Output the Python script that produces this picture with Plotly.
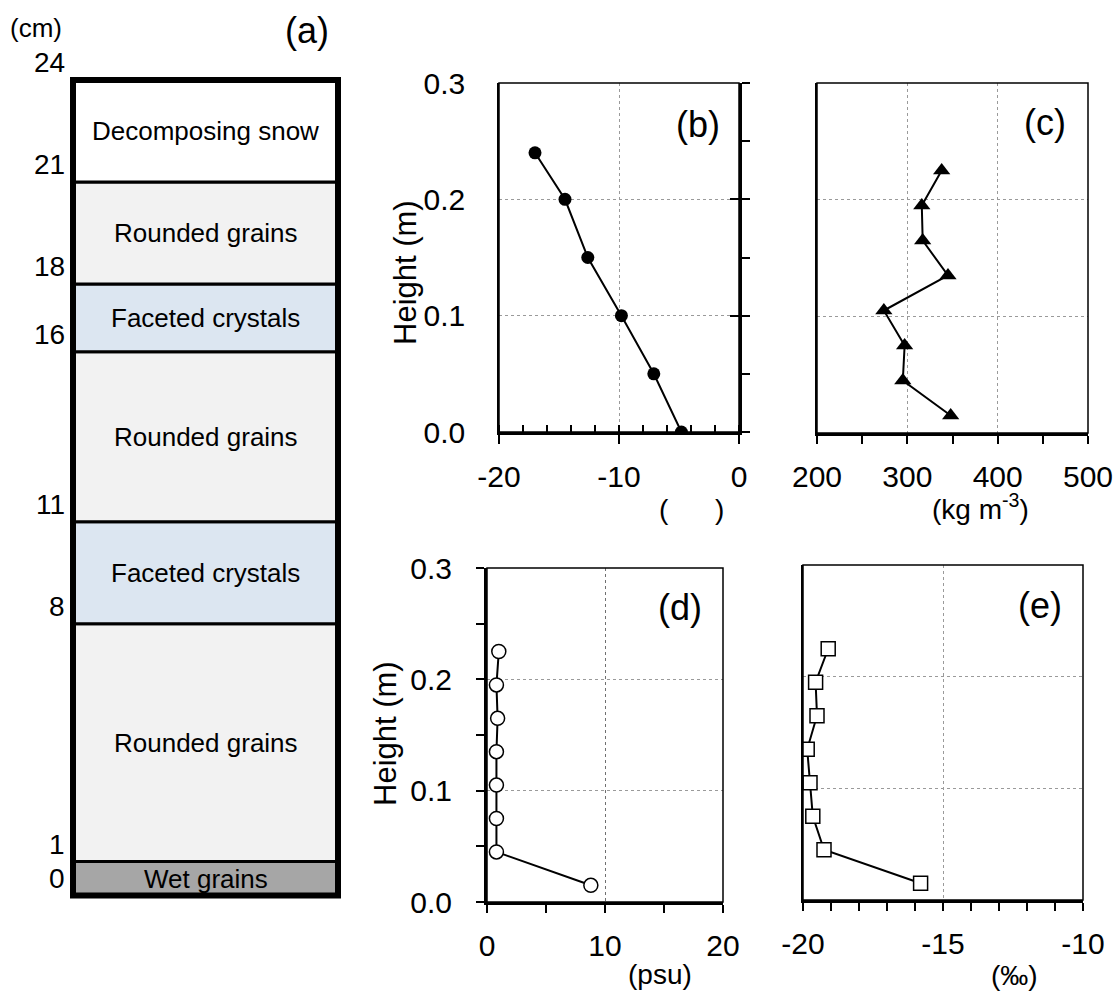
import plotly.graph_objects as go

W, H = 1113, 998

# ---------------- data ----------------
# (a) snow stratigraphy (cm)
layer_names = ["Wet grains", "Rounded grains", "Faceted crystals", "Rounded grains",
               "Faceted crystals", "Rounded grains", "Decomposing snow"]
layer_bottom_cm = [0, 1, 8, 11, 16, 18, 21]
layer_top_cm = [1, 8, 11, 16, 18, 21, 24]
layer_colors = ["#a6a6a6", "#f2f2f2", "#dce6f1", "#f2f2f2", "#dce6f1", "#f2f2f2", "#ffffff"]
depth_labels_cm = [0, 1, 8, 11, 16, 18, 21, 24]

# (b) snow temperature
temp_height = [0.24, 0.20, 0.15, 0.10, 0.05, 0.0]
temperature = [-17.0, -14.5, -12.6, -9.8, -7.1, -4.8]
temp_ticks = [-20, -10, 0]
temp_ticktext = ["-20", "-10", "0"]

# (c) density
dens_height = [0.225, 0.195, 0.165, 0.135, 0.105, 0.075, 0.045, 0.015]
density = [338, 316, 317, 345, 274, 297, 295, 348]

# (d) salinity
sal_height = [0.225, 0.195, 0.165, 0.135, 0.105, 0.075, 0.045, 0.015]
salinity = [1.0, 0.8, 0.9, 0.8, 0.8, 0.8, 0.8, 8.8]

# (e) d18O
iso_height = [0.225, 0.195, 0.165, 0.135, 0.105, 0.075, 0.045, 0.015]
d18o = [-19.1, -19.55, -19.5, -19.85, -19.75, -19.65, -19.25, -15.8]
iso_ticks = [-20, -15, -10]
iso_ticktext = ["-20", "-15", "-10"]

height_ticks = [0.0, 0.1, 0.2, 0.3]

# ---------------- helpers ----------------
FONT = "Arial, Liberation Sans, sans-serif"
TICK = 30
XSTAND = 7


def xd(a, b):
    return [a / W, b / W]


def yd(top, bottom):
    return [1 - bottom / H, 1 - top / H]


def px(x):
    return x / W


def py(y):
    return 1 - y / H


GRID = dict(showgrid=True, gridcolor="#9a9a9a", griddash="dot", gridwidth=1)

fig = go.Figure()

# (a) layers as stacked bars
thickness = [t - b for t, b in zip(layer_top_cm, layer_bottom_cm)]
fig.add_trace(go.Bar(
    x=[0] * len(layer_names), y=thickness, base=layer_bottom_cm, width=1,
    marker=dict(color=layer_colors, line=dict(color="black", width=3)),
    xaxis="x", yaxis="y", showlegend=False, hoverinfo="skip"))

# (b)
fig.add_trace(go.Scatter(x=temperature, y=temp_height, mode="lines+markers",
                         line=dict(color="black", width=2),
                         marker=dict(symbol="circle", size=13, color="black"),
                         xaxis="x2", yaxis="y2", showlegend=False))
# right-side helper axes of (b)
fig.add_trace(go.Scatter(x=[None], y=[None], xaxis="x2", yaxis="y6", showlegend=False))
fig.add_trace(go.Scatter(x=[None], y=[None], xaxis="x2", yaxis="y7", showlegend=False))
# (c)
fig.add_trace(go.Scatter(x=density, y=dens_height, mode="lines+markers",
                         line=dict(color="black", width=2),
                         marker=dict(symbol="triangle-up", size=15, color="black"),
                         xaxis="x3", yaxis="y3", showlegend=False))
# (d)
fig.add_trace(go.Scatter(x=salinity, y=sal_height, mode="lines+markers",
                         line=dict(color="black", width=2),
                         marker=dict(symbol="circle", size=14, color="white",
                                     line=dict(color="black", width=1.5)),
                         xaxis="x4", yaxis="y4", showlegend=False))
# (e)
fig.add_trace(go.Scatter(x=d18o, y=iso_height, mode="lines+markers",
                         line=dict(color="black", width=2),
                         marker=dict(symbol="square", size=14, color="white",
                                     line=dict(color="black", width=1.5)),
                         xaxis="x5", yaxis="y5", showlegend=False))

tickfont = dict(size=TICK, color="black", family=FONT)
height_text = [f"{v:.1f}" for v in height_ticks]

layout = dict(
    width=W, height=H, margin=dict(l=0, r=0, t=0, b=0, autoexpand=False),
    paper_bgcolor="white", plot_bgcolor="rgba(0,0,0,0)",
    font=dict(family=FONT, color="black"),
    showlegend=False, hovermode=False,
    # (a)
    xaxis=dict(domain=xd(73, 338), range=[-0.5, 0.5], visible=False, fixedrange=True),
    yaxis=dict(domain=yd(80, 895.5), range=[0, 24], visible=False, fixedrange=True),
    # (b)
    xaxis2=dict(domain=xd(499, 739), anchor="y2", range=[-20, 0],
                tickmode="array", tickvals=temp_ticks, ticktext=temp_ticktext,
                ticks="outside", ticklen=9, tickwidth=2, tickcolor="black",
                minor=dict(dtick=2, tick0=0, ticks="inside", ticklen=7, tickwidth=2,
                           tickcolor="black", showgrid=False),
                showline=True, linewidth=3, linecolor="black", zeroline=False,
                tickfont=tickfont, ticklabelstandoff=XSTAND, ticklabeloverflow="allow", **GRID),
    yaxis2=dict(domain=yd(83, 432), anchor="x2", range=[0, 0.3],
                tickmode="array", tickvals=height_ticks, ticktext=height_text,
                ticks="", showline=True, linewidth=1.5, linecolor="black",
                zeroline=False, tickfont=tickfont, ticklabelstandoff=26,
                ticklabeloverflow="allow", **GRID),
    yaxis6=dict(overlaying="y2", anchor="x2", side="right", range=[0, 0.3], dtick=0.05, tick0=0,
                ticks="outside", ticklen=8, tickwidth=2, tickcolor="black",
                showticklabels=False, showgrid=False, zeroline=False,
                showline=True, linewidth=3, linecolor="black"),
    yaxis7=dict(overlaying="y2", anchor="x2", side="right", range=[0, 0.3], dtick=0.1, tick0=0,
                ticks="inside", ticklen=9, tickwidth=2, tickcolor="black",
                showticklabels=False, showgrid=False, zeroline=False, showline=False),
    # (c)
    xaxis3=dict(domain=xd(817, 1088), anchor="y3", range=[200, 500], dtick=100, tick0=0,
                ticks="outside", ticklen=8, tickwidth=2, tickcolor="black",
                minor=dict(dtick=50, ticks="outside", ticklen=8, tickwidth=2, tickcolor="black", showgrid=False),
                showline=True, linewidth=3, linecolor="black", zeroline=False,
                tickfont=tickfont, ticklabelstandoff=XSTAND, ticklabeloverflow="allow", **GRID),
    yaxis3=dict(domain=yd(83, 433), anchor="x3", range=[0, 0.3], dtick=0.1, tick0=0,
                ticks="", showticklabels=False, showline=True, linewidth=1.5, linecolor="black",
                zeroline=False, **GRID),
    # (d)
    xaxis4=dict(domain=xd(487, 723), anchor="y4", range=[0, 20], dtick=10, tick0=0,
                ticks="outside", ticklen=8, tickwidth=2, tickcolor="black",
                minor=dict(dtick=5, ticks="outside", ticklen=8, tickwidth=2, tickcolor="black", showgrid=False),
                showline=True, linewidth=3, linecolor="black", zeroline=False,
                tickfont=tickfont, ticklabelstandoff=XSTAND, ticklabeloverflow="allow",
                showgrid=True, gridcolor="#707070", griddash="dot", gridwidth=1),
    yaxis4=dict(domain=yd(568, 902), anchor="x4", range=[0, 0.3],
                tickmode="array", tickvals=height_ticks, ticktext=height_text,
                ticks="outside", ticklen=8, tickwidth=2, tickcolor="black",
                minor=dict(dtick=0.05, tick0=0, ticks="outside", ticklen=8, tickwidth=2,
                           tickcolor="black", showgrid=False),
                showline=True, linewidth=3, linecolor="black",
                zeroline=False, tickfont=tickfont, ticklabelstandoff=18,
                ticklabeloverflow="allow", **GRID),
    # (e)
    xaxis5=dict(domain=xd(803, 1083), anchor="y5", range=[-20, -10],
                tickmode="array", tickvals=iso_ticks, ticktext=iso_ticktext,
                ticks="outside", ticklen=8, tickwidth=2, tickcolor="black",
                minor=dict(dtick=1, tick0=0, ticks="outside", ticklen=8, tickwidth=2,
                           tickcolor="black", showgrid=False),
                showline=True, linewidth=3, linecolor="black", zeroline=False,
                tickfont=tickfont, ticklabelstandoff=XSTAND, ticklabeloverflow="allow", **GRID),
    yaxis5=dict(domain=yd(565, 900), anchor="x5", range=[0, 0.3], dtick=0.1, tick0=0,
                ticks="", showticklabels=False, showline=True, linewidth=1.5, linecolor="black",
                zeroline=False, **GRID),
)
fig.update_layout(**layout)

shapes = []
# thin frames of panels b-e
for k in ["2", "3", "4", "5"]:
    shapes.append(dict(type="rect", xref=f"x{k} domain", yref=f"y{k} domain",
                       x0=0, x1=1, y0=0, y1=1, line=dict(color="black", width=1.5),
                       layer="above"))
# thick outer frame of (a)
shapes.append(dict(type="rect", xref="x domain", yref="y domain", x0=0, x1=1, y0=0, y1=1,
                   line=dict(color="black", width=6), layer="above"))
fig.update_layout(shapes=shapes)

ann = []
# layer names
for name, b, t in zip(layer_names, layer_bottom_cm, layer_top_cm):
    ann.append(dict(x=0, y=(b + t) / 2, xref="x", yref="y", text=name, showarrow=False,
                    xanchor="center", yanchor="middle",
                    font=dict(size=26, color="black", family=FONT)))
# depth labels
for cm in depth_labels_cm:
    ann.append(dict(x=px(67), y=cm, xref="paper", yref="y", text=str(cm), showarrow=False,
                    xanchor="right", yanchor="bottom", yshift=0,
                    font=dict(size=28, color="black", family=FONT)))
ann.append(dict(x=px(36), y=py(28), xref="paper", yref="paper", text="(cm)", showarrow=False,
                xanchor="center", yanchor="middle",
                font=dict(size=26, color="black", family=FONT)))

# panel labels
for txt, x, y in [("(a)", 307, 30), ("(b)", 698, 125), ("(c)", 1045, 123),
                  ("(d)", 680, 607), ("(e)", 1040, 605)]:
    ann.append(dict(x=px(x), y=py(y), xref="paper", yref="paper", text=txt, showarrow=False,
                    xanchor="center", yanchor="middle",
                    font=dict(size=36, color="black", family=FONT)))

# axis titles
for txt, x, y in [("Height (m)", 405, 273), ("Height (m)", 385, 734)]:
    ann.append(dict(x=px(x), y=py(y), xref="paper", yref="paper", text=txt, showarrow=False,
                    xanchor="center", yanchor="middle",
                    textangle=-90, font=dict(size=31, color="black", family=FONT)))
for txt, x, y in [("(      )", 691, 510), ("(kg m<sup>-3</sup>)", 980, 507),
                  ("(psu)", 660, 974), ("(‰)", 1014, 975)]:
    ann.append(dict(x=px(x), y=py(y), xref="paper", yref="paper", text=txt, showarrow=False,
                    xanchor="center", yanchor="middle",
                    font=dict(size=28, color="black", family=FONT)))
fig.update_layout(annotations=ann)

fig.write_html("out.html")
